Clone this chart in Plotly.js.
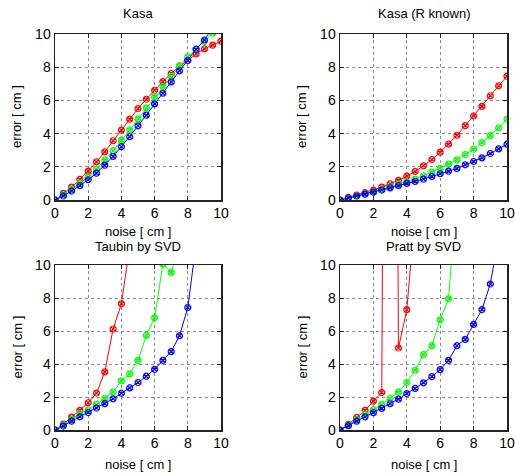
<!DOCTYPE html>
<html>
<head>
<meta charset="utf-8">
<script src="https://cdn.plot.ly/plotly-3.0.1.min.js"></script>
<style>html,body{margin:0;padding:0;background:#fff;}#chart{width:515px;height:474px;}</style>
</head>
<body>
<div id="chart"></div>
<script>
// noise levels [cm]
var noise = [0,0.5,1,1.5,2,2.5,3,3.5,4,4.5,5,5.5,6,6.5,7,7.5,8,8.5,9,9.5,10];

// Kasa
var kasaRed   = [0,0.4,0.78,1.24,1.74,2.3,2.9,3.57,4.21,4.87,5.51,6.07,6.61,7.13,7.62,8.06,8.4,8.8,9.1,9.33,9.57];
var kasaGreen = [0,0.3,0.64,1.0,1.4,1.86,2.4,2.97,3.59,4.23,4.89,5.55,6.21,6.85,7.43,8.06,8.62,9.1,9.55,10.05];
var kasaBlue  = [0,0.24,0.54,0.86,1.22,1.62,2.1,2.63,3.21,3.81,4.47,5.11,5.79,6.43,7.11,7.78,8.42,9.08,9.64,10.4];

// Kasa (R known)
var knownRed   = [0,0.16,0.3,0.44,0.6,0.78,0.98,1.18,1.44,1.72,2.06,2.44,2.88,3.36,3.9,4.48,5.06,5.64,6.28,6.88,7.46];
var knownGreen = [0,0.12,0.24,0.36,0.5,0.64,0.78,0.94,1.1,1.26,1.46,1.68,1.9,2.16,2.42,2.74,3.06,3.46,3.88,4.34,4.86];
var knownBlue  = [0,0.12,0.24,0.35,0.47,0.6,0.73,0.86,1.0,1.12,1.26,1.42,1.58,1.74,1.9,2.12,2.32,2.54,2.8,3.08,3.36];

// Taubin by SVD
var taubinRed   = [0,0.36,0.78,1.19,1.65,2.24,3.52,6.12,7.65,11.1];
var taubinGreen = [0,0.3,0.64,1.0,1.22,1.55,1.9,2.3,2.98,3.4,4.22,5.73,6.8,10.05,9.55,11.3];
var taubinBlue  = [0,0.24,0.54,0.8,1.06,1.33,1.6,1.89,2.23,2.55,2.88,3.26,3.68,4.22,4.75,5.71,7.42,11.3];

// Pratt by SVD
var prattRed   = [0,0.34,0.76,1.19,1.75,2.27,100,4.97,7.29,13.2];
var prattGreen = [0,0.3,0.62,0.97,1.23,1.55,1.91,2.29,2.88,3.62,4.57,5.11,6.68,7.95,14.4];
var prattBlue  = [0,0.26,0.54,0.8,1.05,1.31,1.59,1.87,2.21,2.52,2.86,3.24,3.66,4.22,5.11,5.49,6.4,7.3,8.85,11.7];

var titles = ["Kasa","Kasa (R known)","Taubin by SVD","Pratt by SVD"];
var tickVals = [0,2,4,6,8,10];
var xTitle = "noise [ cm ]";
var yTitle = "error [ cm ]";

var colors = {red:"#ff0000", green:"#00ff00", blue:"#0000ff"};
var panels = [
  [kasaRed,kasaGreen,kasaBlue],
  [knownRed,knownGreen,knownBlue],
  [taubinRed,taubinGreen,taubinBlue],
  [prattRed,prattGreen,prattBlue]
];
var cnames = ["red","green","blue"];

var traces = [];
panels.forEach(function(p, i){
  var ax = i === 0 ? "" : String(i+1);
  p.forEach(function(ys, j){
    traces.push({
      x: noise.slice(0, ys.length), y: ys,
      xaxis: "x"+ax, yaxis: "y"+ax,
      type: "scatter", mode: "lines+markers",
      line: {color: colors[cnames[j]], width: 1},
      marker: {symbol: "circle-x-open", size: 6, color: colors[cnames[j]], line: {width: 1.2, color: colors[cnames[j]]}},
      showlegend: false, hoverinfo: "skip"
    });
  });
});

var W = 515, H = 474;
function px(a,b){ return [a/W, b/W]; }
function py(top,bot){ return [(H-bot)/H, (H-top)/H]; }
var boxes = [
  {x:[55,221], y:[34,200]},
  {x:[340,507], y:[34,200]},
  {x:[55,221], y:[265,430]},
  {x:[340,507], y:[265,430]}
];

var font = "Liberation Sans, Arial, sans-serif";
var layout = {
  width: W, height: H,
  margin: {l:0, r:0, t:0, b:0},
  paper_bgcolor: "#fff", plot_bgcolor: "#fff",
  font: {family: font, size: 14, color: "#000"},
  showlegend: false,
  annotations: []
};

boxes.forEach(function(b, i){
  var ax = i === 0 ? "" : String(i+1);
  var common = {
    range: [0,10], tickvals: tickVals, ticktext: tickVals.map(String),
    showgrid: true, gridcolor: "#8a8a8a", griddash: "dot", gridwidth: 1,
    zeroline: false, showline: true, linecolor: "#222", linewidth: 1.5, mirror: "ticks",
    ticks: "inside", ticklen: 4, tickcolor: "#222", tickwidth: 1,
    tickfont: {family: font, size: 14, color: "#000"}, fixedrange: true
  };
  layout["xaxis"+ax] = Object.assign({}, common, {domain: px(b.x[0], b.x[1]), anchor: "y"+ax});
  layout["yaxis"+ax] = Object.assign({}, common, {domain: py(b.y[0], b.y[1]), anchor: "x"+ax});

  var cx = (b.x[0]+b.x[1])/2;
  var cy = (b.y[0]+b.y[1])/2;
  var top = i < 2;
  layout.annotations.push({text: titles[i], xref:"paper", yref:"paper", x: cx/W, y: (H-(b.y[0]-(top ? 20 : 18)))/H,
    xanchor:"center", yanchor:"middle", showarrow:false, font:{family:font, size:13, color:"#000"}});
  layout.annotations.push({text: xTitle, xref:"paper", yref:"paper", x: cx/W, y: (H-(b.y[1]+(top ? 31 : 34)))/H,
    xanchor:"center", yanchor:"middle", showarrow:false, font:{family:font, size:13, color:"#000"}});
  layout.annotations.push({text: yTitle, xref:"paper", yref:"paper", x: (b.x[0]-38)/W, y: (H-cy)/H,
    xanchor:"center", yanchor:"middle", textangle:-90, showarrow:false, font:{family:font, size:13, color:"#000"}});
});

Plotly.newPlot("chart", traces, layout, {staticPlot: true, displayModeBar: false});
</script>
</body>
</html>
